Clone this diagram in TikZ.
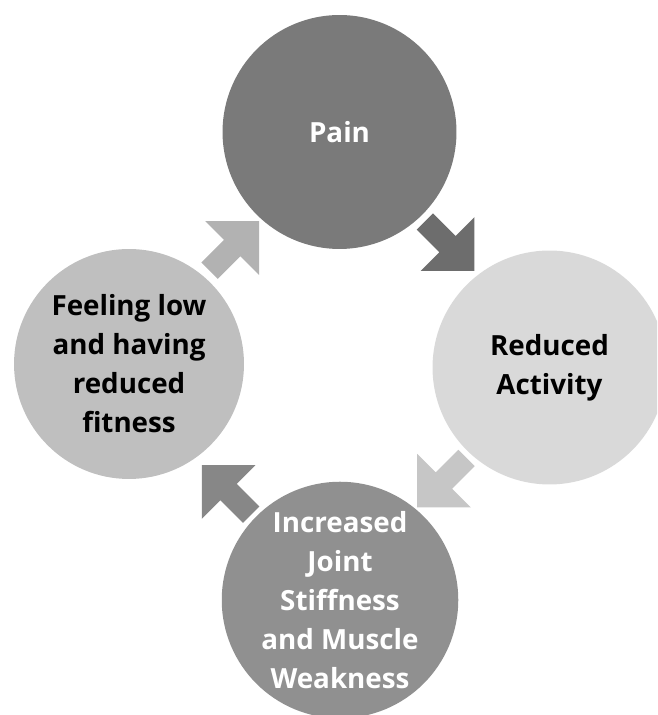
\documentclass[tikz,border=0pt]{standalone}
\usepackage{fontspec}
\setmainfont{Open Sans}
\usetikzlibrary{calc}
\definecolor{PainGray}{HTML}{7A7A7A}
\definecolor{ActGray}{HTML}{D9D9D9}
\definecolor{WeakGray}{HTML}{909090}
\definecolor{LowGray}{HTML}{BFBFBF}
\definecolor{ArrOne}{HTML}{6D6D6D}
\definecolor{ArrTwo}{HTML}{C6C6C6}
\definecolor{ArrThree}{HTML}{878787}
\definecolor{ArrFour}{HTML}{B2B2B2}

\begin{document}
\begin{tikzpicture}[
  x=0.02cm, y=0.02cm,
  stage/.style={circle,inner sep=0pt,minimum size=4.68cm,align=center,font=\fontsize{15.8}{22.2}\selectfont\bfseries},
  blockarrow/.pic={\fill (-35,-11.5) -- (-3,-11.5) -- (-3,-38) -- (35,0) -- (-3,38) -- (-3,11.5) -- (-35,11.5) -- cycle;}
]
\clip (0,0) rectangle (657,715);
% the four stages of the cycle
\node[stage,fill=PainGray,text=white] (pain) at (339.5,583) {Pain};
\node[stage,fill=ActGray] (act) at (549.5,347.5) {Reduced\\Activity};
\node[stage,fill=WeakGray,text=white] (weak) at (340,115) {Increased\\Joint\\Stiffness\\and Muscle\\Weakness};
\node[stage,fill=LowGray,minimum size=4.6cm] (low) at (129,351) {Feeling low\\and having\\reduced\\fitness};
% block arrows between them
\pic[fill=ArrOne,rotate=-45] at ($(pain)!0.5!(act)+(5,3.5)$) {blockarrow};
\pic[fill=ArrTwo,rotate=-135] at ($(act)!0.5!(weak)+(-3,1)$) {blockarrow};
\pic[fill=ArrThree,rotate=135] at ($(weak)!0.5!(low)+(-8,-8)$) {blockarrow};
\pic[fill=ArrFour,rotate=45] at ($(low)!0.5!(pain)+(0,2)$) {blockarrow};
\end{tikzpicture}
\end{document}
